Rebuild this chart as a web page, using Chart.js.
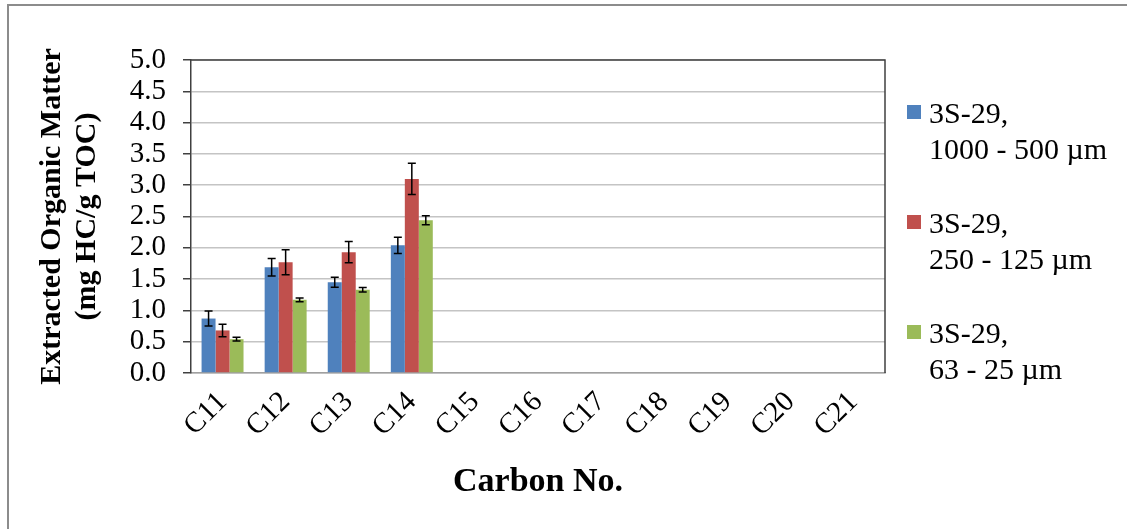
<!DOCTYPE html>
<html>
<head>
<meta charset="utf-8">
<script src="https://cdn.jsdelivr.net/npm/chart.js@4.4.1/dist/chart.umd.min.js"></script>
<style>
  html, body { margin: 0; padding: 0; background: #fff; }
  #wrap { position: relative; width: 1127px; height: 529px; overflow: hidden; }
  #frame { position: absolute; left: 7px; top: 4px; width: 1200px; height: 600px;
           border-top: 2px solid #8c8c8c; border-left: 2px solid #8c8c8c; }
  #legend { position: absolute; left: 907px; top: 95px; font-family: "Liberation Serif", "Times New Roman", serif;
            font-size: 30px; color: #000; }
  .item { position: relative; height: 110px; }
  .box { position: absolute; left: 0; top: 10px; width: 14px; height: 14px; }
  .txt { position: absolute; left: 22px; top: 0; line-height: 36px; white-space: nowrap; }
</style>
</head>
<body>
<div id="wrap">
  <div id="frame"></div>
  <canvas id="barChart" width="1127" height="529"></canvas>
  <div id="legend"></div>
</div>
<script>
// 横轴：碳数
var categories = ['C11', 'C12', 'C13', 'C14', 'C15', 'C16', 'C17', 'C18', 'C19', 'C20', 'C21'];
var yTicks = [0, 0.5, 1, 1.5, 2, 2.5, 3, 3.5, 4, 4.5, 5];

var seriesNames = [
  ['3S-29,', '1000 - 500 \u00b5m'],
  ['3S-29,', '250 - 125 \u00b5m'],
  ['3S-29,', '63 - 25 \u00b5m']
];
var seriesColors = ['#4F81BD', '#C0504D', '#9BBB59'];

// 数值 (mg HC/g TOC)
var coarse = [0.87, 1.69, 1.45, 2.04, null, null, null, null, null, null, null];
var medium = [0.68, 1.77, 1.93, 3.10, null, null, null, null, null, null, null];
var fine   = [0.54, 1.17, 1.33, 2.44, null, null, null, null, null, null, null];

// 误差棒
var coarseErr = [0.12, 0.14, 0.08, 0.13, null, null, null, null, null, null, null];
var mediumErr = [0.10, 0.20, 0.17, 0.25, null, null, null, null, null, null, null];
var fineErr   = [0.03, 0.03, 0.035, 0.07, null, null, null, null, null, null, null];

var seriesValues = [coarse, medium, fine];
var seriesErrors = [coarseErr, mediumErr, fineErr];

var serif = '"Liberation Serif", "Times New Roman", serif';

// 误差棒插件
var errorBars = {
  id: 'errorBars',
  afterDatasetsDraw: function(chart) {
    var ctx = chart.ctx;
    var y = chart.scales.y;
    ctx.save();
    ctx.strokeStyle = '#000';
    ctx.lineWidth = 1.5;
    chart.data.datasets.forEach(function(ds, i) {
      var meta = chart.getDatasetMeta(i);
      meta.data.forEach(function(bar, j) {
        var v = ds.data[j], e = ds.errors[j];
        if (v == null || e == null) return;
        var top = y.getPixelForValue(v + e);
        var bot = y.getPixelForValue(v - e);
        ctx.beginPath();
        ctx.moveTo(bar.x, top); ctx.lineTo(bar.x, bot);
        ctx.moveTo(bar.x - 4, top); ctx.lineTo(bar.x + 4, top);
        ctx.moveTo(bar.x - 4, bot); ctx.lineTo(bar.x + 4, bot);
        ctx.stroke();
      });
    });
    ctx.restore();
  }
};

// 绘图区边框（上、右）
var plotBorder = {
  id: 'plotBorder',
  afterDraw: function(chart) {
    var a = chart.chartArea, ctx = chart.ctx;
    ctx.save();
    ctx.strokeStyle = '#404040';
    ctx.lineWidth = 1.5;
    ctx.beginPath();
    ctx.moveTo(a.left, a.top); ctx.lineTo(a.right, a.top); ctx.lineTo(a.right, a.bottom);
    ctx.stroke();
    ctx.restore();
  }
};

var ctxBar = document.getElementById('barChart').getContext('2d');
var barChart = new Chart(ctxBar, {
  type: 'bar',
  data: {
    labels: categories,
    datasets: seriesValues.map(function(vals, i) {
      return {
        label: seriesNames[i].join(' '),
        data: vals,
        errors: seriesErrors[i],
        backgroundColor: seriesColors[i],
        borderWidth: 0,
        categoryPercentage: 0.665,
        barPercentage: 1.0
      };
    })
  },
  options: {
    responsive: false,
    animation: false,
    layout: { padding: { top: 60, right: 242, bottom: 0, left: 0 } },
    plugins: {
      legend: { display: false },
      tooltip: { enabled: false }
    },
    scales: {
      x: {
        grid: { display: false, drawTicks: false },
        border: { color: '#a0a0a0', width: 1.5 },
        ticks: {
          color: '#000',
          font: { family: serif, size: 29 },
          maxRotation: 45, minRotation: 45,
          padding: 12,
          autoSkip: false
        },
        title: {
          display: true,
          text: 'Carbon No.',
          color: '#000',
          font: { family: serif, size: 34, weight: 'bold' },
          padding: { top: 0, bottom: 26 }
        },
        afterFit: function(s) { s.height = 156; }
      },
      y: {
        min: 0, max: 5,
        afterBuildTicks: function(s) { s.ticks = yTicks.map(function(v) { return { value: v }; }); },
        grid: { color: '#c4c4c4', lineWidth: 1.5, tickColor: '#404040', tickLength: 8 },
        border: { color: '#404040', width: 1.5 },
        ticks: {
          color: '#000',
          font: { family: serif, size: 29, lineHeight: 1 },
          padding: 17,
          autoSkip: false,
          callback: function(v) { return v.toFixed(1); }
        },
        title: {
          display: true,
          text: ['Extracted Organic Matter', '(mg HC/g TOC)'],
          color: '#000',
          font: { family: serif, size: 30, weight: 'bold', lineHeight: 1.15 },
          padding: { top: 35, bottom: 0 }
        },
        afterFit: function(s) { s.width = 191; }
      }
    }
  },
  plugins: [errorBars, plotBorder]
});

// 图例
var legend = document.getElementById('legend');
seriesNames.forEach(function(name, i) {
  var item = document.createElement('div');
  item.className = 'item';
  var box = document.createElement('div');
  box.className = 'box';
  box.style.background = seriesColors[i];
  var txt = document.createElement('div');
  txt.className = 'txt';
  txt.innerHTML = name.join('<br>');
  item.appendChild(box); item.appendChild(txt);
  legend.appendChild(item);
});
</script>
</body>
</html>
